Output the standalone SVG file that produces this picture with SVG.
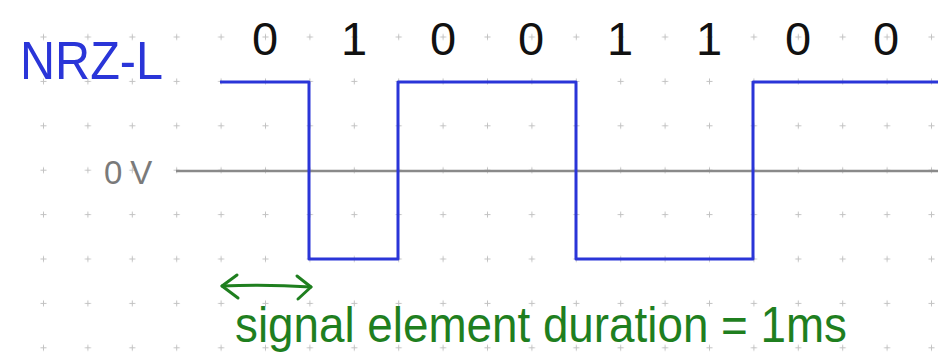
<svg xmlns="http://www.w3.org/2000/svg" width="938" height="353" viewBox="0 0 938 353">
  <style>
    .bit { font-family: "Liberation Sans", Arial, sans-serif; font-size: 47px; fill: #111; text-anchor: middle; }
    .sig { fill: none; stroke: #2a35d8; stroke-width: 3; stroke-linejoin: round; }
    .zero { stroke: #8a8a8a; stroke-width: 2.5; }
    .grn { stroke: #1f7f1f; stroke-width: 3; fill: none; stroke-linecap: round; stroke-linejoin: round; }
  </style>
  <defs>
    <pattern id="grid" patternUnits="userSpaceOnUse" x="21.3" y="14.8" width="44.4" height="44.4">
      <path d="M19.2 22.2 H25.2 M22.2 19.2 V25.2" stroke="#c2c2c2" stroke-width="1"/>
    </pattern>
  </defs>
  <rect width="938" height="353" fill="#ffffff"/>
  <rect x="17" y="0" width="921" height="353" fill="url(#grid)"/>

  <g id="title">
    <text x="20" y="79" font-family="'Liberation Sans', Arial, sans-serif" font-size="54" fill="#2a35d8" textLength="143" lengthAdjust="spacingAndGlyphs">NRZ-L</text>
  </g>

  <g id="bits">
    <text class="bit" x="265" y="55">0</text>
    <text class="bit" x="354" y="55">1</text>
    <text class="bit" x="443" y="55">0</text>
    <text class="bit" x="531" y="55">0</text>
    <text class="bit" x="620" y="55">1</text>
    <text class="bit" x="709" y="55">1</text>
    <text class="bit" x="798" y="55">0</text>
    <text class="bit" x="886" y="55">0</text>
  </g>

  <g id="zero-line">
    <text x="104" y="184" font-family="'Liberation Sans', Arial, sans-serif" font-size="33" fill="#7a7a7a" letter-spacing="8">0V</text>
    <line class="zero" x1="176" y1="171" x2="938" y2="171"/>
  </g>

  <g id="signal">
    <path class="sig" d="M220 82 H309 V259 H398 V82 H576 V259 H753 V82 H938"/>
  </g>

  <g id="connectors">
    <path class="grn" d="M222 286 Q266 284 311 287"/>
    <path class="grn" d="M237 275 L222 286 L238 298"/>
    <path class="grn" d="M297 276 L311 287 L298 299"/>
  </g>

  <g id="caption">
    <text x="235" y="342" font-family="'Liberation Sans', Arial, sans-serif" font-size="50" fill="#1f7f1f" textLength="612" lengthAdjust="spacingAndGlyphs">signal element duration = 1ms</text>
  </g>
</svg>
